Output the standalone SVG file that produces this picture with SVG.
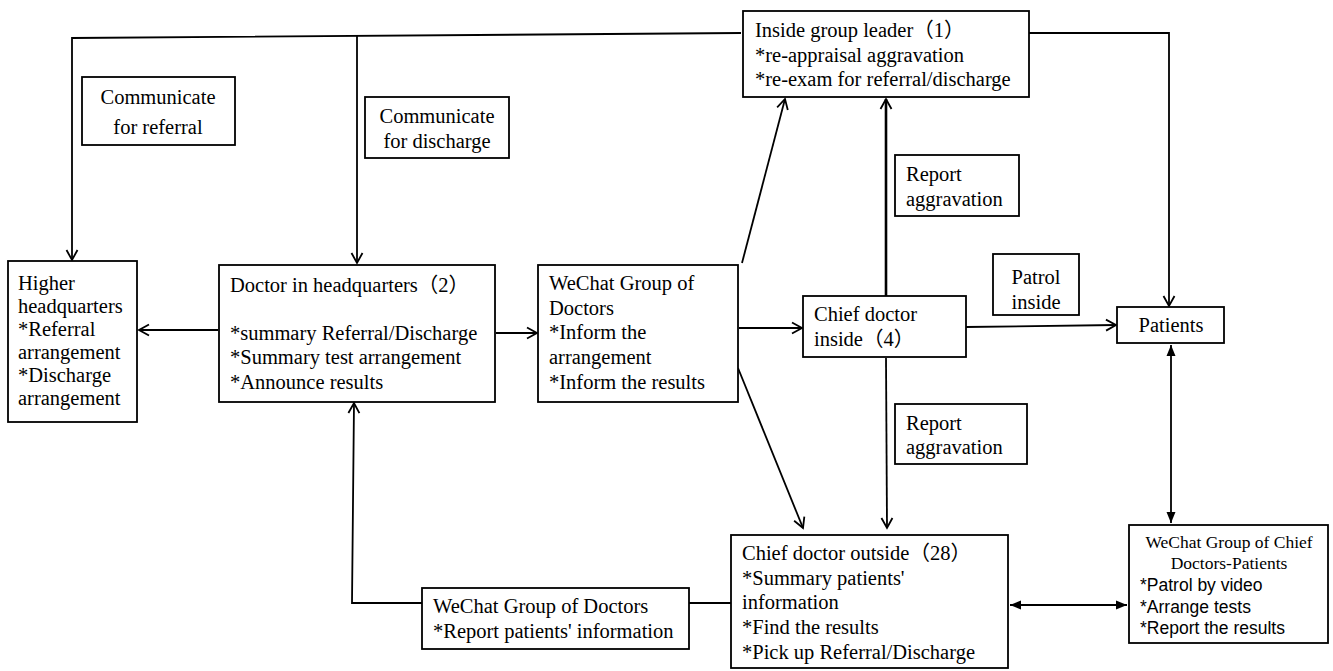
<svg xmlns="http://www.w3.org/2000/svg" width="1333" height="671" viewBox="0 0 1333 671">
<style>
.box{fill:#fff;stroke:#000;stroke-width:1.8}
.t{font-family:"Liberation Serif","Times New Roman","Noto Sans CJK SC",serif;font-size:20.5px;fill:#000}
.sm{font-size:17.5px}
.s{font-family:"Liberation Sans",Arial,sans-serif;font-size:17.5px;fill:#000}
.c{stroke:#000;stroke-width:1.8;fill:none}
.thick{stroke-width:2.6}
</style>
<defs>
<marker id="open" markerUnits="userSpaceOnUse" markerWidth="14" markerHeight="14" viewBox="0 0 14 14" refX="12" refY="7" orient="auto">
<path d="M2,1.5 L12,7 L2,12.5" fill="none" stroke="#000" stroke-width="1.8"/>
</marker>
<marker id="fill" markerUnits="userSpaceOnUse" markerWidth="12" markerHeight="12" viewBox="0 0 12 12" refX="11" refY="6" orient="auto-start-reverse">
<path d="M0,1.5 L11,6 L0,10.5 Z" fill="#000"/>
</marker>
</defs>
<rect width="1333" height="671" fill="#fff"/>
<g id="connectors">
<polyline class="c" points="741,33 72,38 72,260" marker-end="url(#open)"/>
<line class="c" x1="357" y1="35" x2="357" y2="263" marker-end="url(#open)"/>
<polyline class="c" points="1029,33 1169,33 1169,306" marker-end="url(#open)"/>
<line class="c" x1="218" y1="330" x2="139" y2="330" marker-end="url(#open)"/>
<line class="c" x1="496" y1="333" x2="537" y2="333" marker-end="url(#open)"/>
<line class="c" x1="739" y1="328" x2="802" y2="328" marker-end="url(#open)"/>
<line class="c" x1="742" y1="263" x2="785" y2="99" marker-end="url(#open)"/>
<line class="c" x1="738" y1="368" x2="803" y2="528" marker-end="url(#open)"/>
<line class="c thick" x1="886" y1="296" x2="886" y2="99" marker-end="url(#open)"/>
<line class="c" x1="886" y1="358" x2="887" y2="528" marker-end="url(#open)"/>
<line class="c" x1="966" y1="327" x2="1116" y2="325" marker-end="url(#open)"/>
<line class="c" x1="1171" y1="345" x2="1171" y2="523" marker-start="url(#fill)" marker-end="url(#fill)"/>
<line class="c" x1="1010" y1="605" x2="1127" y2="605" marker-start="url(#fill)" marker-end="url(#fill)"/>
<line class="c" x1="731" y1="603" x2="689" y2="603"/>
<polyline class="c" points="422,603 352,603 354,403" marker-end="url(#open)"/>
</g>
<g id="inside-group-leader">
<rect class="box" x="743" y="11" width="286" height="86"/>
<text class="t" x="755" y="37">Inside group leader（1）</text>
<text class="t" x="755" y="62">*re-appraisal aggravation</text>
<text class="t" x="755" y="86">*re-exam for referral/discharge</text>
</g>
<g id="communicate-referral">
<rect class="box" x="82" y="77" width="153" height="68"/>
<text class="t" x="158" y="104" text-anchor="middle">Communicate</text>
<text class="t" x="158" y="134" text-anchor="middle">for referral</text>
</g>
<g id="communicate-discharge">
<rect class="box" x="365" y="97" width="144" height="61"/>
<text class="t" x="437" y="123" text-anchor="middle">Communicate</text>
<text class="t" x="437" y="148" text-anchor="middle">for discharge</text>
</g>
<g id="report-aggravation-1">
<rect class="box" x="895" y="155" width="124" height="61"/>
<text class="t" x="906" y="181">Report</text>
<text class="t" x="906" y="206">aggravation</text>
</g>
<g id="patrol-inside">
<rect class="box" x="993" y="254" width="86" height="61"/>
<text class="t" x="1036" y="284" text-anchor="middle">Patrol</text>
<text class="t" x="1036" y="309" text-anchor="middle">inside</text>
</g>
<g id="patients">
<rect class="box" x="1117" y="307" width="107" height="36"/>
<text class="t" x="1171" y="332" text-anchor="middle">Patients</text>
</g>
<g id="higher-hq">
<rect class="box" x="8" y="261" width="129" height="161"/>
<text class="t" x="18" y="290">Higher</text>
<text class="t" x="18" y="313">headquarters</text>
<text class="t" x="18" y="336">*Referral</text>
<text class="t" x="18" y="359">arrangement</text>
<text class="t" x="18" y="382">*Discharge</text>
<text class="t" x="18" y="405">arrangement</text>
</g>
<g id="doctor-hq">
<rect class="box" x="219" y="265" width="276" height="137"/>
<text class="t" x="230" y="292">Doctor in headquarters（2）</text>
<text class="t" x="230" y="340">*summary Referral/Discharge</text>
<text class="t" x="230" y="364">*Summary test arrangement</text>
<text class="t" x="230" y="389">*Announce results</text>
</g>
<g id="wechat-doctors">
<rect class="box" x="538" y="265" width="200" height="137"/>
<text class="t" x="549" y="290">WeChat Group of</text>
<text class="t" x="549" y="315">Doctors</text>
<text class="t" x="549" y="339">*Inform the</text>
<text class="t" x="549" y="364">arrangement</text>
<text class="t" x="549" y="389">*Inform the results</text>
</g>
<g id="chief-inside">
<rect class="box" x="803" y="296" width="163" height="61"/>
<text class="t" x="814" y="321">Chief doctor</text>
<text class="t" x="814" y="346">inside（4）</text>
</g>
<g id="report-aggravation-2">
<rect class="box" x="895" y="404" width="132" height="60"/>
<text class="t" x="906" y="430">Report</text>
<text class="t" x="906" y="454">aggravation</text>
</g>
<g id="chief-outside">
<rect class="box" x="731" y="535" width="277" height="133"/>
<text class="t" x="742" y="560">Chief doctor outside（28）</text>
<text class="t" x="742" y="585">*Summary patients'</text>
<text class="t" x="742" y="609">information</text>
<text class="t" x="742" y="634">*Find the results</text>
<text class="t" x="742" y="659">*Pick up Referral/Discharge</text>
</g>
<g id="wechat-report">
<rect class="box" x="422" y="588" width="267" height="61"/>
<text class="t" x="433" y="613">WeChat Group of Doctors</text>
<text class="t" x="433" y="638">*Report patients' information</text>
</g>
<g id="wechat-chief-patients">
<rect class="box" x="1129" y="525" width="199" height="118"/>
<text class="t sm" x="1229" y="548" text-anchor="middle">WeChat Group of Chief</text>
<text class="t sm" x="1229" y="569" text-anchor="middle">Doctors-Patients</text>
<text class="s" x="1140" y="591">*Patrol by video</text>
<text class="s" x="1140" y="613">*Arrange tests</text>
<text class="s" x="1140" y="634">*Report the results</text>
</g>
</svg>
